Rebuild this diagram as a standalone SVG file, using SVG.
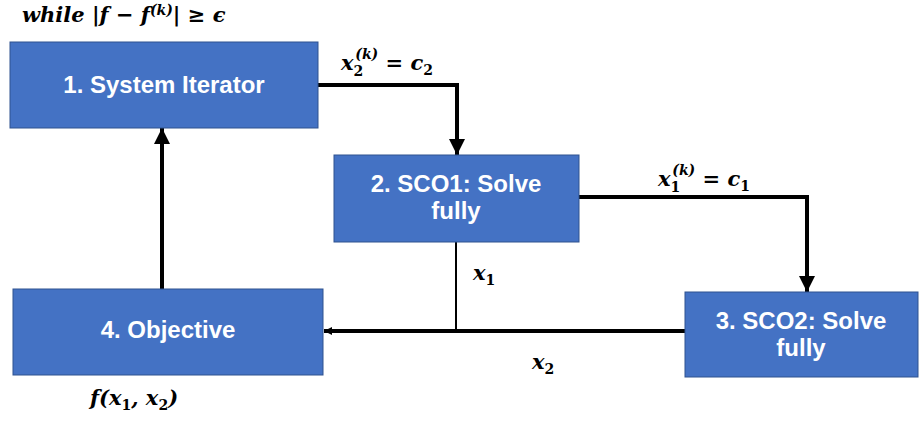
<svg xmlns="http://www.w3.org/2000/svg" width="919" height="421" viewBox="0 0 919 421">
<style>
.box{fill:#4472C4;stroke:#2F528F;stroke-width:1}
.bt{font-family:"Liberation Sans",Arial,sans-serif;font-weight:bold;font-size:24px;fill:#fff;text-anchor:middle}
.m{font-family:"DejaVu Serif","Liberation Serif",serif;font-weight:bold;font-style:italic;font-size:21px;fill:#000}
.sub{font-size:14px;font-style:normal}
.sup{font-size:14px}
.c{fill:none;stroke:#000;stroke-width:4}
.t{fill:none;stroke:#000;stroke-width:2}
</style>
<defs>
<marker id="ah" markerUnits="userSpaceOnUse" markerWidth="18" markerHeight="16" refX="16" refY="8" orient="auto">
<path d="M0,0 L16,8 L0,16 Z" fill="#000"/>
</marker>
<marker id="ahs" markerUnits="userSpaceOnUse" markerWidth="10" markerHeight="10" refX="8" refY="5" orient="auto">
<path d="M0,1 L8,5 L0,9 Z" fill="#000"/>
</marker>
</defs>
<g id="connectors">
<polyline class="c" points="318,85 457,85 457,155" marker-end="url(#ah)"/>
<polyline class="c" points="579,197 807,197 807,292" marker-end="url(#ah)"/>
<line class="t" x1="456" y1="242" x2="456" y2="331"/>
<line class="c" x1="685" y1="331" x2="324" y2="331" marker-end="url(#ahs)"/>
<line class="c" x1="162" y1="289" x2="162" y2="128" marker-end="url(#ah)"/>
</g>
<g id="node1">
<rect class="box" x="10" y="42" width="308" height="86"/>
<text class="bt" x="164" y="93">1. System Iterator</text>
</g>
<g id="node2">
<rect class="box" x="334" y="155" width="245" height="87"/>
<text class="bt" x="456" y="192">2. SCO1: Solve</text>
<text class="bt" x="456" y="219">fully</text>
</g>
<g id="node3">
<rect class="box" x="685" y="292" width="233" height="85"/>
<text class="bt" x="801" y="329">3. SCO2: Solve</text>
<text class="bt" x="801" y="356">fully</text>
</g>
<g id="node4">
<rect class="box" x="13" y="289" width="310" height="86"/>
<text class="bt" x="168" y="338">4. Objective</text>
</g>
<g id="labels">
<text class="m" x="22" y="22">while |f − f<tspan class="sup" dy="-7">(k)</tspan><tspan dy="7">| ≥ ϵ</tspan></text>
<text class="m" x="341" y="70">x<tspan class="sub" dy="6">2</tspan><tspan class="sup" dx="-8" dy="-17">(k)</tspan><tspan dy="11"> = c</tspan><tspan class="sub" dy="5">2</tspan></text>
<text class="m" x="658" y="186">x<tspan class="sub" dy="6">1</tspan><tspan class="sup" dx="-8" dy="-17">(k)</tspan><tspan dy="11"> = c</tspan><tspan class="sub" dy="5">1</tspan></text>
<text class="m" x="473" y="280">x<tspan class="sub" dy="5">1</tspan></text>
<text class="m" x="532" y="369">x<tspan class="sub" dy="5">2</tspan></text>
<text class="m" x="90" y="405">f(x<tspan class="sub" dy="5">1</tspan><tspan dy="-5">, x</tspan><tspan class="sub" dy="5">2</tspan><tspan dy="-5">)</tspan></text>
</g>
</svg>
